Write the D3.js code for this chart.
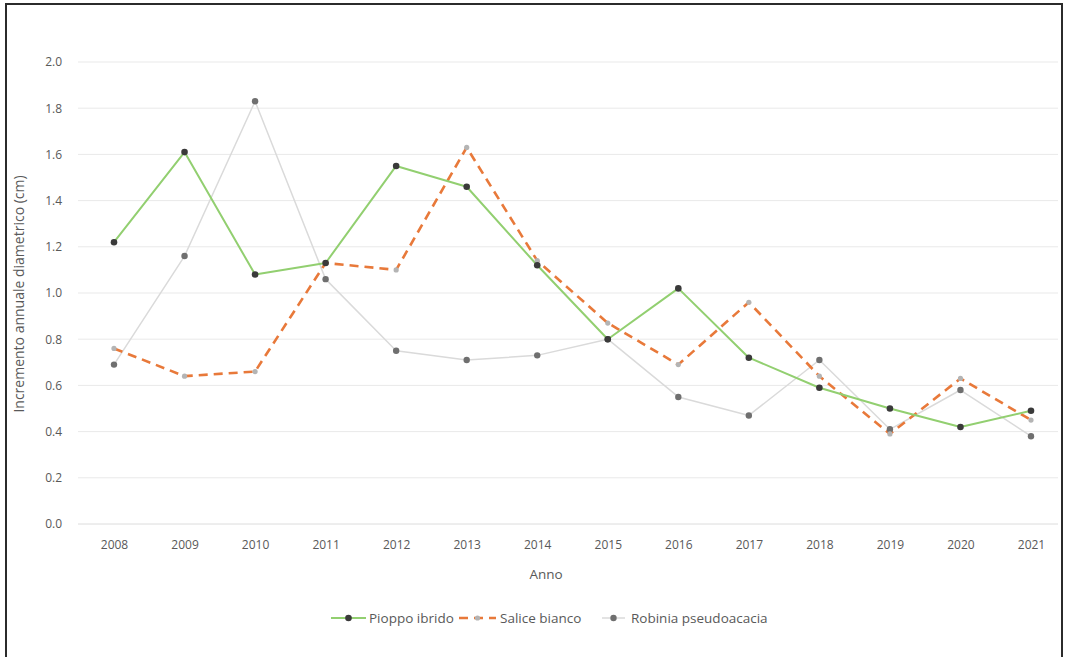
<!DOCTYPE html>
<html>
<head>
<meta charset="utf-8">
<script src="https://cdn.jsdelivr.net/npm/d3@7/dist/d3.min.js"></script>
<style>
  html, body { margin: 0; padding: 0; background: #ffffff; }
  svg { display: block; font-family: "Open Sans", "Noto Sans", sans-serif; }
</style>
</head>
<body>
<svg id="chart" width="1068" height="657"></svg>
<script>
// Annual diameter increment (cm) per species, 2008-2021
const years = [2008, 2009, 2010, 2011, 2012, 2013, 2014, 2015, 2016, 2017, 2018, 2019, 2020, 2021];
const pioppoIbrido = [1.22, 1.61, 1.08, 1.13, 1.55, 1.46, 1.12, 0.80, 1.02, 0.72, 0.59, 0.50, 0.42, 0.49];
const saliceBianco = [0.76, 0.64, 0.66, 1.13, 1.10, 1.63, 1.14, 0.87, 0.69, 0.96, 0.64, 0.39, 0.63, 0.45];
const robiniaPseudoacacia = [0.69, 1.16, 1.83, 1.06, 0.75, 0.71, 0.73, 0.80, 0.55, 0.47, 0.71, 0.41, 0.58, 0.38];
const yTicks = [0, 0.2, 0.4, 0.6, 0.8, 1.0, 1.2, 1.4, 1.6, 1.8, 2.0];
const yTitle = "Incremento annuale diametrico (cm)";
const xTitle = "Anno";

const series = [
  { name: "Pioppo ibrido", values: pioppoIbrido, stroke: "#92cf70", width: 2, dash: null, marker: "#3a3a3a", r: 3.3 },
  { name: "Salice bianco", values: saliceBianco, stroke: "#e8793a", width: 2.6, dash: "9,6", marker: "#b4b4b4", r: 2.6 },
  { name: "Robinia pseudoacacia", values: robiniaPseudoacacia, stroke: "#dadada", width: 1.5, dash: null, marker: "#6f6f6f", r: 3.2 }
];

const svg = d3.select("#chart");

// outer frame
svg.append("rect")
  .attr("x", 6).attr("y", 4).attr("width", 1056).attr("height", 660)
  .attr("fill", "#ffffff").attr("stroke", "#2b2b2b").attr("stroke-width", 2);

const plotLeft = 78, plotRight = 1058;
const x = d3.scalePoint().domain(years).range([114, 1031]);
const y = d3.scaleLinear().domain([0, 2]).range([524, 62]);

// horizontal gridlines
svg.append("g").selectAll("line").data(yTicks).join("line")
  .attr("x1", plotLeft).attr("x2", plotRight)
  .attr("y1", d => y(d)).attr("y2", d => y(d))
  .attr("stroke", d => d === 0 ? "#dcdcdc" : "#e9e9e9").attr("stroke-width", 1);

// y axis labels
const yAxis = svg.append("g").attr("transform", "translate(62,0)")
  .call(d3.axisLeft(y).tickValues(yTicks).tickFormat(d3.format(".1f")).tickSize(0).tickPadding(0));
yAxis.select(".domain").remove();
yAxis.selectAll("text").attr("fill", "#595959").style("font-size", "12px")
  .style("font-family", "'Open Sans', 'Noto Sans', sans-serif");

// x axis labels
const xAxis = svg.append("g").attr("transform", "translate(0,540)")
  .call(d3.axisBottom(x).tickSize(0).tickPadding(0));
xAxis.select(".domain").remove();
xAxis.selectAll("text").attr("fill", "#595959").style("font-size", "12px")
  .style("font-family", "'Open Sans', 'Noto Sans', sans-serif");

// axis titles
svg.append("text")
  .attr("transform", "translate(24,294) rotate(-90)")
  .attr("text-anchor", "middle").attr("fill", "#595959").style("font-size", "14px")
  .text(yTitle);
svg.append("text")
  .attr("x", 546).attr("y", 579)
  .attr("text-anchor", "middle").attr("fill", "#595959").style("font-size", "13.5px")
  .text(xTitle);

// series lines, drawn back to front
const line = d3.line().x((d, i) => x(years[i])).y(d => y(d));
const drawOrder = [2, 1, 0];
drawOrder.forEach(k => {
  const s = series[k];
  svg.append("path")
    .datum(s.values)
    .attr("d", line)
    .attr("fill", "none")
    .attr("stroke", s.stroke)
    .attr("stroke-width", s.width)
    .attr("stroke-dasharray", s.dash)
    .attr("stroke-linejoin", "round");
});
drawOrder.forEach(k => {
  const s = series[k];
  svg.append("g").selectAll("circle").data(s.values).join("circle")
    .attr("cx", (d, i) => x(years[i]))
    .attr("cy", d => y(d))
    .attr("r", s.r)
    .attr("fill", s.marker);
});

// legend
const legendY = 618;
const legendItems = [
  { s: series[0], x0: 331, x1: 366, tx: 369 },
  { s: series[1], x0: 459, x1: 496, tx: 500 },
  { s: series[2], x0: 602, x1: 625, tx: 631 }
];
const lg = svg.append("g");
legendItems.forEach(it => {
  lg.append("line")
    .attr("x1", it.x0).attr("x2", it.x1)
    .attr("y1", legendY).attr("y2", legendY)
    .attr("stroke", it.s.stroke).attr("stroke-width", it.s.width)
    .attr("stroke-dasharray", it.s.dash);
  lg.append("circle")
    .attr("cx", (it.x0 + it.x1) / 2).attr("cy", legendY)
    .attr("r", it.s.r).attr("fill", it.s.marker);
  lg.append("text")
    .attr("x", it.tx).attr("y", legendY).attr("dy", "0.35em")
    .attr("fill", "#595959").style("font-size", "13.5px")
    .text(it.s.name);
});
</script>
</body>
</html>
